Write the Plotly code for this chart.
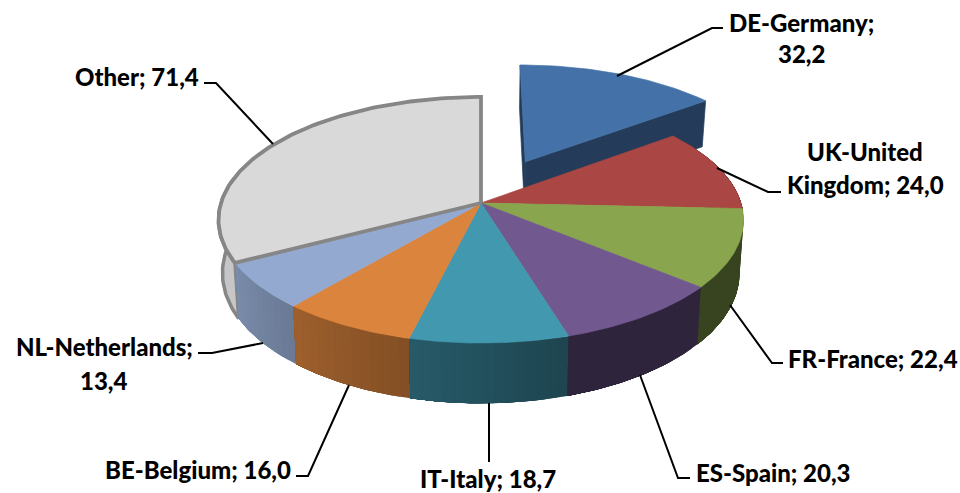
import math
import plotly.graph_objects as go

categories = ["DE-Germany", "UK-United Kingdom", "FR-France", "ES-Spain", "IT-Italy",
              "BE-Belgium", "NL-Netherlands", "Other"]
values = [32.2, 24.0, 22.4, 20.3, 18.7, 16.0, 13.4, 71.4]
top_colors = ["#4472A8", "#AA4643", "#89A54E", "#71588F", "#4198AF", "#DB843D", "#93A9CF", "#D9D9D9"]
explode = [0.40, 0, 0, 0, 0, 0, 0, 0]
# how each label is broken over its lines
label_breaks = {"DE-Germany": "{c};|{v}", "UK-United Kingdom": "UK-United|Kingdom; {v}",
                "NL-Netherlands": "{c};|{v}"}
label_pos = [(801, 22, 31), (865, 151, 33), (873, 358, 0), (773, 472, 0), (488, 478, 0),
             (198, 469, 0), (104, 346, 34), (137, 76, 0)]
leaders = [[(617, 76), (712, 28), (723, 28)], [(717, 168), (768, 192), (781, 192)],
           [(730, 305), (772, 363), (783, 363)], [(640, 375), (678, 478), (690, 478)],
           [(489, 403), (489, 462)], [(349, 385), (308, 476), (296, 476)],
           [(263, 343), (212, 353), (198, 353)], [(273, 144), (216, 83), (204, 83)]]

CX, CY, A, B, K, D, SHRINK = 481, 203, 260, 120.7, 0.138, 52, 0.985
BORDER = "#868686"


def project(X, Y, low=False):
    w = 1 + K * Y
    x = A * X / w
    y = CY - B * Y / w
    if low:
        return CX + x * SHRINK, y + D / w
    return CX + x, y


def shade(hex_color, f):
    r, g, b = (int(hex_color[i:i + 2], 16) for i in (1, 3, 5))
    return f"rgb({round(r * f)},{round(g * f)},{round(b * f)})"


def side_factor(deg):
    if deg <= 163:
        return 0.41
    if deg >= 245:
        return 0.84
    return 0.45 + (deg - 163) * (0.84 - 0.45) / (245 - 163)


def arc(a0, a1, ox=0.0, oy=0.0, step=1.0, low=False):
    n = max(2, int(abs(a1 - a0) / step) + 1)
    pts = []
    for i in range(n + 1):
        t = math.radians(a0 + (a1 - a0) * i / n)
        pts.append(project(ox + math.sin(t), oy + math.cos(t), low))
    return pts


def poly(fig, pts, fill, line=None, width=0.7):
    xs = [p[0] for p in pts] + [pts[0][0]]
    ys = [p[1] for p in pts] + [pts[0][1]]
    fig.add_trace(go.Scatter(x=xs, y=ys, mode="lines", fill="toself", fillcolor=fill,
                             line=dict(color=line or fill, width=width, shape="linear"),
                             hoverinfo="skip", showlegend=False))


total = sum(values)
angles = [0.0]
for v in values:
    angles.append(angles[-1] + v / total * 360)

fig = go.Figure()

# exploded slices first: they sit behind the rest
for i, e in enumerate(explode):
    if not e:
        continue
    mid = math.radians((angles[i] + angles[i + 1]) / 2)
    ox, oy = e * math.sin(mid), e * math.cos(mid)
    a0, a1 = angles[i], angles[i + 1]
    wall = shade(top_colors[i], 0.53)
    apex_t, apex_b = project(ox, oy), project(ox, oy, True)
    t0 = math.radians(a0)
    t1 = math.radians(a1)
    poly(fig, [apex_t, project(ox + math.sin(t0), oy + math.cos(t0)),
               project(ox + math.sin(t0), oy + math.cos(t0), True), apex_b], wall)
    poly(fig, [apex_t, project(ox + math.sin(t1), oy + math.cos(t1)),
               project(ox + math.sin(t1), oy + math.cos(t1), True), apex_b], wall)
    poly(fig, [apex_t] + arc(a0, a1, ox, oy), top_colors[i])

# curved sides of the slices in place, back to front
other = len(values) - 1
poly(fig, arc(angles[other], 282) + arc(282, angles[other], low=True), "#C6C6C6", BORDER, 3.5)
order = sorted((i for i in range(len(values) - 1) if not explode[i]),
               key=lambda i: -math.cos(math.radians((angles[i] + angles[i + 1]) / 2)) )
for i in order:
    a0, a1 = angles[i], angles[i + 1]
    n = max(1, int((a1 - a0) / 2))
    for j in range(n):
        # every band runs on to the end of the slice, so the next one paints over it and no seam shows
        s0 = a0 + (a1 - a0) * j / n
        s1 = a0 + (a1 - a0) * (j + 1) / n
        poly(fig, arc(s0, a1) + arc(a1, s0, low=True),
             shade(top_colors[i], side_factor((s0 + s1) / 2)), width=0)

# top faces; the outlined last slice goes over its neighbours
for i in range(len(values)):
    if explode[i]:
        continue
    pts = [project(0, 0)] + arc(angles[i], angles[i + 1])
    if i == other:
        poly(fig, pts, top_colors[i], BORDER, 3.8)
    else:
        poly(fig, pts, top_colors[i])

# leader lines
for pts in leaders:
    fig.add_trace(go.Scatter(x=[p[0] for p in pts], y=[p[1] for p in pts], mode="lines",
                             line=dict(color="#000000", width=2), hoverinfo="skip", showlegend=False))

# labels
for cat, val, (lx, ly, gap) in zip(categories, values, label_pos):
    v = f"{val:.1f}".replace(".", ",")
    lines = label_breaks.get(cat, "{c}; {v}").format(c=cat, v=v).split("|")
    for k, line in enumerate(lines):
        fig.add_annotation(x=lx, y=ly + k * gap, text=line, showarrow=False,
                           xanchor="center", yanchor="middle",
                           font=dict(family="Lato", size=24, color="#000000", weight=900))

fig.update_layout(width=960, height=493, margin=dict(l=0, r=0, t=0, b=0),
                  paper_bgcolor="white", plot_bgcolor="white", showlegend=False,
                  xaxis=dict(range=[0, 960], visible=False, fixedrange=True),
                  yaxis=dict(range=[493, 0], visible=False, fixedrange=True))
fig.write_html("out.html", config={"displayModeBar": False},
               post_script="document.body.style.margin='0';document.body.style.overflow='hidden';")
